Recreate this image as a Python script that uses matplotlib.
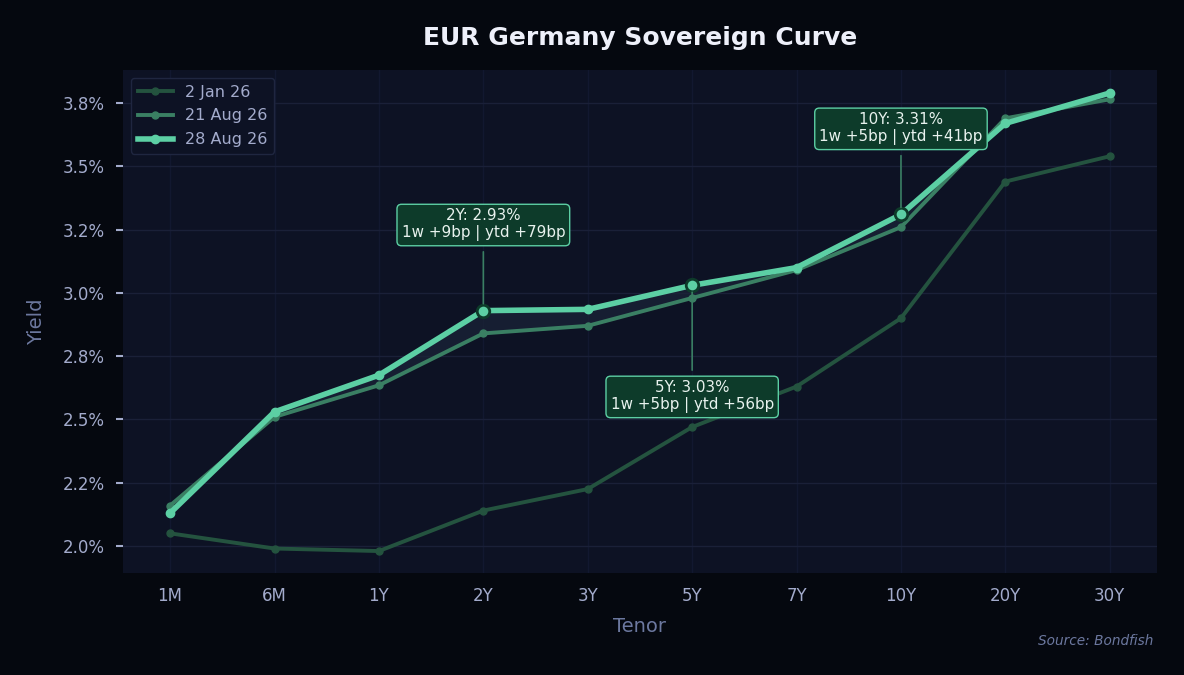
import matplotlib.pyplot as plt
from matplotlib.ticker import FuncFormatter
import numpy as np

# Curve data (yield in %)
tenors = ['1M', '6M', '1Y', '2Y', '3Y', '5Y', '7Y', '10Y', '20Y', '30Y']
jan02 = [2.05, 1.99, 1.98, 2.14, 2.225, 2.47, 2.63, 2.90, 3.44, 3.54]
aug21 = [2.16, 2.51, 2.635, 2.84, 2.87, 2.98, 3.09, 3.26, 3.69, 3.765]
aug28 = [2.13, 2.53, 2.675, 2.93, 2.935, 3.03, 3.10, 3.31, 3.67, 3.79]
labels = ['2 Jan 26', '21 Aug 26', '28 Aug 26']

# Annotations: tenor, text, vertical offset (points)
notes = [
    ('2Y', '2Y: 2.93%\n1w +9bp | ytd +79bp', 62),
    ('5Y', '5Y: 3.03%\n1w +5bp | ytd +56bp', -80),
    ('10Y', '10Y: 3.31%\n1w +5bp | ytd +41bp', 62),
]

bg = '#05080f'
panel = '#0d1224'
grid_c = '#1a2038'
tick_c = '#a3abcc'
lab_c = '#6c789f'
c_jan = '#24533f'
c_w1 = '#3a7f63'
c_now = '#5ccfa4'

fig, ax = plt.subplots(figsize=(11.84, 6.75), dpi=100)
fig.patch.set_facecolor(bg)
ax.set_facecolor(panel)
fig.subplots_adjust(left=0.104, right=0.977, top=0.896, bottom=0.151)

x = np.arange(len(tenors))
ax.fill_between(x, aug21, aug28, color='#1b2438', alpha=0.7, zorder=1)
ax.plot(x, jan02, color=c_jan, lw=2.8, marker='o', ms=5, label=labels[0], zorder=2)
ax.plot(x, aug21, color=c_w1, lw=2.8, marker='o', ms=5, label=labels[1], zorder=3)
ax.plot(x, aug28, color=c_now, lw=4, marker='o', ms=6, label=labels[2], zorder=4)

for ten, txt, dy in notes:
    i = tenors.index(ten)
    ax.plot(x[i], aug28[i], 'o', ms=9, mfc=c_now, mec='#0d3b2a', mew=2, zorder=6)
    ax.annotate(txt, xy=(x[i], aug28[i]), xytext=(0, dy), textcoords='offset points',
                ha='center', va='center', fontsize=10.9, color='#e8f2ee', zorder=7,
                bbox=dict(boxstyle='round,pad=0.3', fc='#0d3b2a', ec=c_now, lw=1),
                arrowprops=dict(arrowstyle='-', color=c_w1, lw=1.2, shrinkA=4, shrinkB=5))

ax.set_xticks(x)
ax.set_xticklabels(tenors)
ax.set_xlim(-0.45, 9.45)
ax.set_ylim(1.893, 3.88)
ax.set_yticks([2.0, 2.25, 2.5, 2.75, 3.0, 3.25, 3.5, 3.75])
ax.yaxis.set_major_formatter(FuncFormatter(lambda v, p: f'{v:.1f}%'))
ax.tick_params(axis='x', length=0, colors=tick_c, labelsize=12, pad=10)
ax.tick_params(axis='y', length=5, width=1.5, color=tick_c, colors=tick_c, labelsize=12, pad=8)
ax.yaxis.grid(True, color=grid_c, lw=1)
ax.xaxis.grid(True, color='#121830', lw=1)
ax.set_axisbelow(True)
for s in ax.spines.values():
    s.set_visible(False)

ax.set_xlabel('Tenor', color=lab_c, fontsize=14, labelpad=9)
ax.set_ylabel('Yield', color=lab_c, fontsize=14, labelpad=12)
ax.set_title('EUR Germany Sovereign Curve', color='#eef0fa', fontsize=18, fontweight='bold', pad=18)

leg = ax.legend(loc='upper left', fontsize=11.5, facecolor=panel, edgecolor='#1f2640',
                labelcolor=tick_c, framealpha=1, borderpad=0.4, handlelength=2.2,
                labelspacing=0.55)

fig.text(0.974, 0.05, 'Source: Bondfish', ha='right', va='center', color=lab_c,
         fontsize=9.8, style='italic')

fig.savefig('out.png', facecolor=bg)
